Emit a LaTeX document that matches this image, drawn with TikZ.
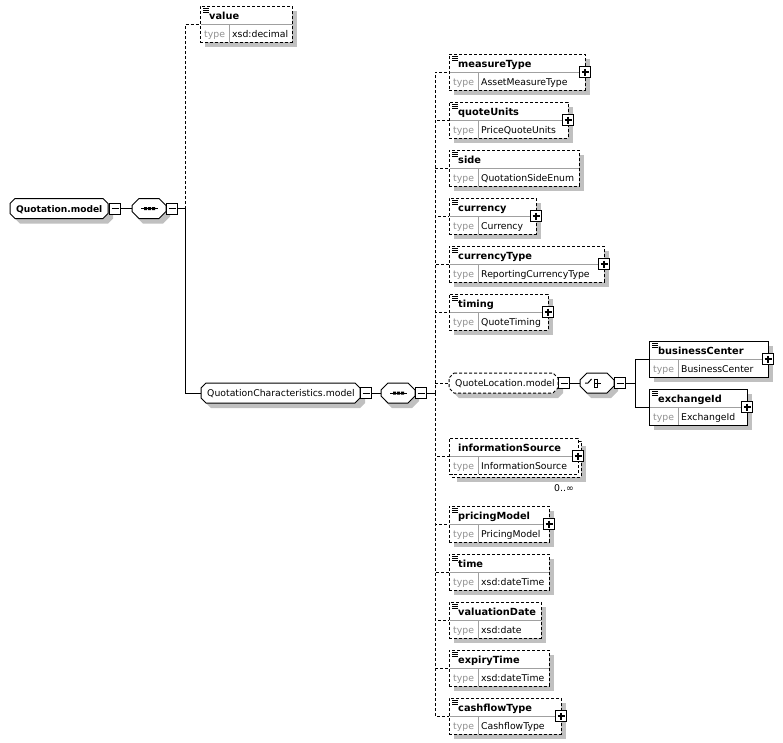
\documentclass[tikz,border=0pt]{standalone}
\usepackage{fontspec}
\setmainfont{DejaVu Sans}
\usetikzlibrary{calc}
\definecolor{shd}{HTML}{C0C0C0}
\definecolor{tgray}{HTML}{909090}
\definecolor{dgray}{HTML}{A0A0A0}
\tikzset{
  nm/.style={font=\fontsize{9.8}{11}\selectfont\bfseries,inner sep=0pt,anchor=base west},
  nmg/.style={font=\fontsize{9.1}{11}\selectfont\bfseries,inner sep=0pt,anchor=base west},
  tx/.style={font=\fontsize{9.3}{11}\selectfont,inner sep=0pt,anchor=base west},
  tp/.style={tx,text=tgray},
  opt/.style={dash pattern=on 3pt off 2pt},
  req/.style={solid},
  ln/.style={line width=1pt,black},
  divl/.style={line width=1pt,dgray},
  elbox/.style={draw,ln,fill=white,minimum height=36pt,inner sep=0pt,outer sep=0pt,anchor=north west},
  pbox/.style={draw,line width=1.2pt,fill=white,minimum size=11pt,inner sep=0pt,outer sep=0pt},
  mbox/.style={draw,line width=1pt,fill=white,minimum size=11pt,inner sep=0pt,outer sep=0pt},
  hub/.style={inner sep=0pt,outer sep=0pt,minimum height=20pt,anchor=west},
}
\newcommand\chpath[5]{(#1+#5,#2) -- (#3-#5,#2) -- (#3,#2+#5) -- (#3,#4-#5) -- (#3-#5,#4) -- (#1+#5,#4) -- (#1,#4-#5) -- (#1,#2+#5) -- cycle}
\newcommand\pbx[3]{\node[pbox] (#1) at (#2,#3) {};
  \draw[line width=1.2pt] ($(#1.center)+(-3.5,0)$) -- ($(#1.center)+(3.5,0)$) ($(#1.center)+(0,-3.5)$) -- ($(#1.center)+(0,3.5)$);}
\newcommand\mbx[3]{\node[mbox] (#1) at (#2,#3) {};
  \draw[ln] ($(#1.center)+(-3.5,0)$) -- ($(#1.center)+(3.5,0)$);}
% element: id, x, top, width, name, type, style, plus
\newcommand\xel[8]{%
  \fill[shd] (#2+5,#3+5) rectangle (#2+#4+5,#3+41);
  \node[elbox,#7,minimum width=#4] (#1) at (#2,#3) {};
  \draw[divl] (#2+0.5,#3+18) -- (#2+#4-0.5,#3+18) (#2+29,#3+18) -- (#2+29,#3+35.5);
  \draw[line width=0.9pt] (#2+3,#3+2) -- ++(6,0) (#2+3,#3+4) -- ++(6,0) (#2+3,#3+6) -- ++(6,0);
  \node[nm] (#1-name) at (#2+9,#3+13.5) {#5};
  \node[tp] (#1-tl) at (#2+4,#3+31.5) {type};
  \node[tx] (#1-type) at (#2+32,#3+31.5) {#6};
  \ifnum#8=1\relax \pbx{#1-plus}{#2+#4}{#3+18}\fi
}
% group: id, x1, x2, yc, style, font style, text
\newcommand\grp[7]{%
  \fill[shd] \chpath{#2+5}{#4-10+5}{#3+5}{#4+10+5}{5};
  \draw[ln,#5,fill=white] \chpath{#2}{#4-10}{#3}{#4+10}{5};
  \node[hub,minimum width=#3-#2] (#1) at (#2,#4) {};
  \node[#6] (#1-t) at (#2+6,#4+3.8) {#7};
}
% compositor: id, x1, yc
\newcommand\cmp[3]{%
  \fill[shd] \chpath{#2+4}{#3-10+5}{#2+34+4}{#3+10+5}{7};
  \draw[ln,fill=white] \chpath{#2}{#3-10}{#2+34}{#3+10}{7};
  \node[hub,minimum width=34] (#1) at (#2,#3) {};
}
\newcommand\seqsym[2]{%
  \draw[ln] (#1+9,#2) -- (#1+26,#2);
  \fill (#1+12,#2-1.5) rectangle ++(3,3) (#1+16,#2-1.5) rectangle ++(3,3) (#1+20,#2-1.5) rectangle ++(3,3);
}
\begin{document}
\begin{tikzpicture}[x=1pt,y=-1pt]
\useasboundingbox[fill=white] (0,0) rectangle (783,742);

% level 0
\grp{qm}{10}{108}{208.5}{req}{nmg}{Quotation.model}
\mbx{qm-m}{115}{208.5}
\cmp{s1}{132}{208.5}
\seqsym{132}{208.5}
\mbx{s1-m}{172}{208.5}
\coordinate (b1) at (185,208.5);
\draw[ln] (qm-m.east) -- (s1.west);
\draw[ln] (s1-m.east) -- (b1);

\xel{value}{200}{6}{92}{value}{xsd:decimal}{opt}{0}
\grp{qc}{201}{360}{393}{req}{tx}{QuotationCharacteristics.model}
\mbx{qc-m}{366}{393}
\cmp{s2}{381}{393}
\seqsym{381}{393}
\mbx{s2-m}{421}{393}
\coordinate (b2) at (435,393);
\draw[ln,opt] (b1) |- (value.west);
\draw[ln] (b1) |- (qc.west);
\draw[ln] (qc-m.east) -- (s2.west);
\draw[ln] (s2-m.east) -- (b2);

% level 2 elements
\xel{mt}{449}{54}{136}{measureType}{AssetMeasureType}{opt}{1}
\xel{qu}{449}{102}{119}{quoteUnits}{PriceQuoteUnits}{opt}{1}
\xel{side}{449}{150}{130}{side}{QuotationSideEnum}{opt}{0}
\xel{cur}{449}{198}{87}{currency}{Currency}{opt}{1}
\xel{ct}{449}{246}{155}{currencyType}{ReportingCurrencyType}{opt}{1}
\xel{tim}{449}{294}{99}{timing}{QuoteTiming}{opt}{1}

% QuoteLocation.model with choice
\grp{ql}{449}{558}{383}{opt}{tx}{QuoteLocation.model}
\mbx{ql-m}{564}{383}
\cmp{ch}{580}{383}
\draw[ln] (585,383) -- (588,383) -- (591.5,379);
\draw[ln] (594,378.5) -- (594,387.5) (594,379) -- (597.5,379) (594,383) -- (597.5,383) (594,387) -- (597.5,387) (597.5,378.5) -- (597.5,387.5) (597.5,383) -- (601,383);
\mbx{ch-m}{620}{383}
\coordinate (b3) at (635,383);
\draw[ln] (ql-m.east) -- (ch.west);
\draw[ln] (ch-m.east) -- (b3);
\xel{bc}{649}{341}{119}{businessCenter}{BusinessCenter}{req}{1}
\xel{ex}{649}{389}{98}{exchangeId}{ExchangeId}{req}{1}
\draw[ln] (b3) |- (bc.west);
\draw[ln] (b3) |- (ex.west);

% informationSource (multiple)
\fill[shd] (457,446) rectangle (586,482);
\node[elbox,opt,minimum width=129] (isb) at (452,441) {};
\node[elbox,opt,minimum width=129] (is) at (449,438) {};
\draw[divl] (449.5,456) -- (577.5,456) (478,456) -- (478,473.5);
\node[nm] (is-name) at (458,451.5) {informationSource};
\node[tp] (is-tl) at (453,469.5) {type};
\node[tx] (is-type) at (481,469.5) {InformationSource};
\pbx{is-plus}{578}{456}
\node[tx,anchor=base east] (is-occ) at (574,491) {0..∞};

\xel{pm}{449}{506}{100}{pricingModel}{PricingModel}{opt}{1}
\xel{time}{449}{554}{100}{time}{xsd:dateTime}{opt}{0}
\xel{vd}{449}{602}{92}{valuationDate}{xsd:date}{opt}{0}
\xel{et}{449}{650}{100}{expiryTime}{xsd:dateTime}{opt}{0}
\xel{cft}{449}{698}{112}{cashflowType}{CashflowType}{opt}{1}

\foreach \n in {mt,qu,side,cur,ct,tim,ql,is,pm,time,vd,et,cft}
  \draw[ln,opt] (b2) |- (\n.west);
\end{tikzpicture}
\end{document}
